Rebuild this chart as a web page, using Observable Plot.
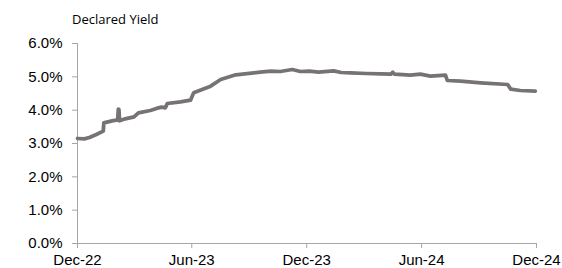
<!DOCTYPE html>
<html>
<head>
<meta charset="utf-8">
<script src="https://cdn.jsdelivr.net/npm/d3@7"></script>
<script src="https://cdn.jsdelivr.net/npm/@observablehq/plot@0.6"></script>
<style>
  html, body { margin: 0; padding: 0; background: #fff; }
  #title { height: 30px; box-sizing: border-box; padding: 12px 0 0 72px; font: 13px "Open Sans", sans-serif; color: #000; line-height: 15px; }
  #chart svg { display: block; }
</style>
</head>
<body>
<div id="title">Declared Yield</div>
<div id="chart"></div>
<script>
const dates = ["2022-12-01","2022-12-12","2022-12-20","2022-12-31","2023-01-11","2023-01-12","2023-01-25","2023-02-03","2023-02-04","2023-02-05","2023-02-06","2023-02-15","2023-03-01","2023-03-08","2023-03-27","2023-04-07","2023-04-14","2023-04-20","2023-04-23","2023-05-14","2023-05-30","2023-06-04","2023-07-01","2023-07-17","2023-08-10","2023-09-18","2023-10-05","2023-10-20","2023-11-08","2023-11-21","2023-12-05","2023-12-20","2024-01-13","2024-01-25","2024-02-09","2024-03-05","2024-03-28","2024-04-13","2024-04-16","2024-04-19","2024-05-14","2024-05-30","2024-06-15","2024-07-09","2024-07-12","2024-08-02","2024-09-03","2024-10-16","2024-10-21","2024-11-05","2024-11-29"];
const yields = [3.15,3.14,3.18,3.27,3.37,3.62,3.68,3.71,4.03,4.02,3.68,3.74,3.80,3.92,3.99,4.06,4.09,4.07,4.20,4.25,4.30,4.52,4.72,4.92,5.06,5.14,5.17,5.16,5.22,5.16,5.17,5.14,5.18,5.13,5.12,5.10,5.09,5.08,5.14,5.08,5.05,5.08,5.02,5.05,4.89,4.87,4.82,4.77,4.63,4.59,4.57];
const xTicks = ["2022-12-01","2023-06-01","2023-12-01","2024-06-01","2024-12-01"];
const yTicks = [0,1,2,3,4,5,6];

const data = dates.map((d, i) => ({date: new Date(d + "T00:00:00Z"), value: yields[i]}));
const axisColor = "#a6a6a6";

const chart = Plot.plot({
  width: 562,
  height: 238,
  marginLeft: 77,
  marginRight: 26,
  marginTop: 13,
  marginBottom: 25,
  style: {fontFamily: "'Liberation Sans', Arial, sans-serif", fontSize: "15px", color: "#000", background: "#fff"},
  x: {type: "utc", domain: [new Date("2022-12-01T00:00:00Z"), new Date("2024-12-01T00:00:00Z")]},
  y: {domain: [0, 6]},
  marks: [
    Plot.axisY({ticks: yTicks, tickFormat: d => d.toFixed(1) + "%", tickSize: 5, tickPadding: 10, stroke: axisColor, label: null, fill: "#000"}),
    Plot.axisX({ticks: xTicks.map(d => new Date(d + "T00:00:00Z")), tickFormat: d3.utcFormat("%b-%y"), tickSize: 5, tickPadding: 6, stroke: axisColor, label: null, fill: "#000"}),
    Plot.ruleX([new Date("2022-12-01T00:00:00Z")], {stroke: axisColor}),
    Plot.ruleY([0], {stroke: axisColor}),
    Plot.lineY(data, {x: "date", y: "value", stroke: "#777373", strokeWidth: 3.75, strokeLinejoin: "round", strokeLinecap: "round"})
  ]
});
document.getElementById("chart").appendChild(chart);
</script>
</body>
</html>
